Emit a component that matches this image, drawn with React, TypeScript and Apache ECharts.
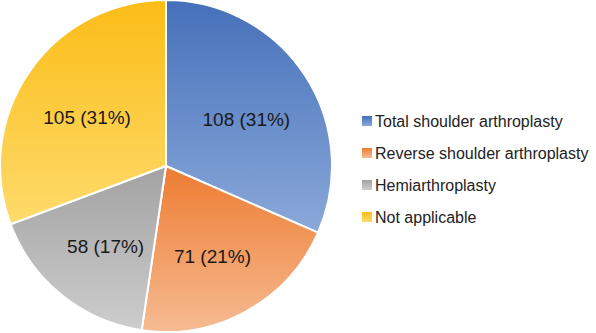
import React, { useEffect, useRef } from "react";
import * as echarts from "echarts";

const categories = [
  "Total shoulder arthroplasty",
  "Reverse shoulder arthroplasty",
  "Hemiarthroplasty",
  "Not applicable",
];
const counts = [108, 71, 58, 105];
const percents = [31, 21, 17, 31];
const topColors = ["#4570b9", "#ed7c31", "#a2a2a2", "#fbbd17"];
const bottomColors = ["#8ba9da", "#f6bb92", "#cdcdcd", "#fedb6c"];

const grad = (i: number) =>
  new echarts.graphic.LinearGradient(0, 0, 0, 1, [
    { offset: 0, color: topColors[i] },
    { offset: 1, color: bottomColors[i] },
  ]);

export default function App() {
  const ref = useRef<HTMLDivElement>(null);
  useEffect(() => {
    if (!ref.current) return;
    const chart = echarts.init(ref.current, undefined, { renderer: "svg" });
    const data = categories.map((name, i) => ({
      name,
      value: counts[i],
      itemStyle: { color: grad(i) },
    }));
    chart.setOption({
      animation: false,
      textStyle: { fontFamily: "Liberation Sans, Arial, sans-serif" },
      legend: {
        orient: "vertical",
        left: 357,
        top: 108,
        itemWidth: 10,
        itemHeight: 10,
        itemGap: 16,
        icon: "rect",
        itemStyle: { borderWidth: 0 },
        data: categories,
        textStyle: { fontSize: 16, color: "#222", padding: [0, 0, 0, -2] },
      },
      series: [
        {
          type: "pie",
          center: [166, 166],
          radius: [0, 166],
          startAngle: 90,
          clockwise: true,
          label: { show: false },
          labelLine: { show: false },
          itemStyle: { borderColor: "#fff", borderWidth: 2 },
          emphasis: { disabled: true },
          data,
        },
        {
          type: "pie",
          center: [166, 166],
          radius: [20, 166],
          startAngle: 90,
          clockwise: true,
          silent: true,
          legendHoverLink: false,
          itemStyle: { color: "rgba(0,0,0,0)" },
          label: {
            show: true,
            position: "inside",
            fontSize: 19,
            color: "#1a1a1a",
            formatter: (p: any) => `${counts[p.dataIndex]} (${percents[p.dataIndex]}%)`,
          },
          labelLayout: () => ({ dy: 6 }),
          labelLine: { show: false },
          emphasis: { disabled: true },
          data: categories.map((name, i) => ({ name: name + " ", value: counts[i] })),
        },
      ],
    });
    return () => chart.dispose();
  }, []);
  return (
    <div
      ref={ref}
      style={{ position: "fixed", left: 0, top: 0, width: 596, height: 333, background: "#fff" }}
    />
  );
}
